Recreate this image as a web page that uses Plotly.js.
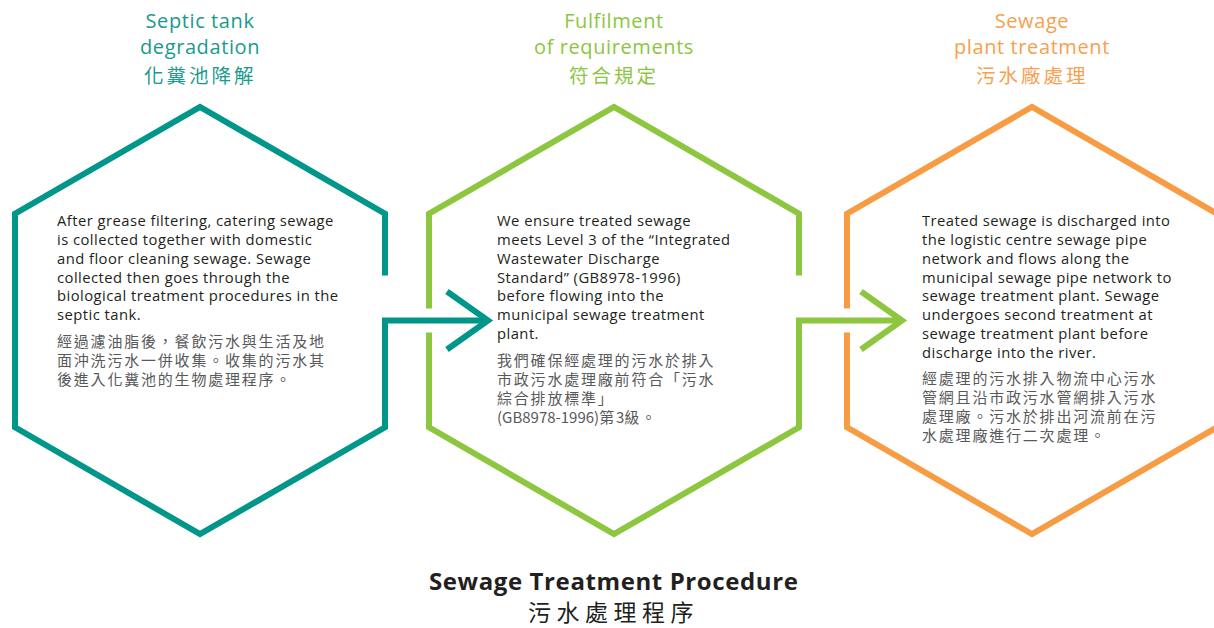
<!DOCTYPE html>
<html>
<head>
<meta charset="utf-8">
<script src="https://cdn.plot.ly/plotly-3.0.1.min.js"></script>
<style>
  html, body { margin: 0; padding: 0; background: #fff; }
  #plotArea0 { width: 1214px; height: 628px; }
</style>
</head>
<body>
<div id="plotArea0"></div>
<script>
// step data
var stepTitleEn = [["Septic tank", "degradation"], ["Fulfilment", "of requirements"], ["Sewage", "plant treatment"]];
var stepTitleZh = ["化糞池降解", "符合規定", "污水廠處理"];
var stepColor = ["#00968a", "#8dc63f", "#f89c43"];
var stepTitleColor = ["#1a9a8c", "#8cc63f", "#f7a04f"];

var stepBodyEn = [
    ["After grease filtering, catering sewage",
     "is collected together with domestic",
     "and floor cleaning sewage. Sewage",
     "collected then goes through the",
     "biological treatment procedures in the",
     "septic tank."],
    ["We ensure treated sewage",
     "meets Level 3 of the \u201cIntegrated",
     "Wastewater Discharge",
     "Standard\u201d (GB8978-1996)",
     "before flowing into the",
     "municipal sewage treatment",
     "plant."],
    ["Treated sewage is discharged into",
     "the logistic centre sewage pipe",
     "network and flows along the",
     "municipal sewage pipe network to",
     "sewage treatment plant. Sewage",
     "undergoes second treatment at",
     "sewage treatment plant before",
     "discharge into the river."]
];
var stepBodyZh = [
    ["經過濾油脂後，餐飲污水與生活及地",
     "面沖洗污水一併收集。收集的污水其",
     "後進入化糞池的生物處理程序。"],
    ["我們確保經處理的污水於排入",
     "市政污水處理廠前符合「污水",
     "綜合排放標準」",
     "(GB8978-1996)第3級。"],
    ["經處理的污水排入物流中心污水",
     "管網且沿市政污水管網排入污水",
     "處理廠。污水於排出河流前在污",
     "水處理廠進行二次處理。"]
];
var chartTitleEn = "Sewage Treatment Procedure";
var chartTitleZh = "污水處理程序";

// layout of the hexagons (pixels, y down)
var hexCenterX = [200, 614, 1032];
var hexCenterY = 320.5;
var hexHalfW = 185;
var hexR = hexHalfW / Math.cos(Math.PI / 6);
var textLeft = [55, 495, 920];

var enFont = "'Open Sans', 'Noto Sans', sans-serif";
var zhFont = "'Noto Sans CJK TC', 'Noto Sans CJK SC', sans-serif";

// spread out only the CJK characters, leave latin runs as they are
function spaceCjk(s, px) {
    return s.replace(/([\u3000-\u9fff\uff00-\uffef]+)/g,
        '<span style="letter-spacing:' + px + 'px">$1</span>');
}
function styled(s, css) {
    return '<span style="' + css + '">' + s + '</span>';
}

var traces = [];
var annotations = [];

hexCenterX.forEach(function(cx, i) {
    var cy = hexCenterY, w = hexHalfW, R = hexR, h = hexR / 2;
    var hasArrow = i < hexCenterX.length - 1;
    var hasGap = i > 0;
    var xs = [], ys = [];
    function pt(x, y) { xs.push(x); ys.push(y); }

    // outline
    if (hasArrow) pt(cx + w, cy - 45);
    else pt(cx + w, cy + h);
    pt(cx + w, cy - h);
    pt(cx, cy - R);
    pt(cx - w, cy - h);
    if (hasGap) {
        pt(cx - w, cy - 12);
        pt(null, null);
        pt(cx - w, cy + 12);
    }
    pt(cx - w, cy + h);
    pt(cx, cy + R);
    pt(cx + w, cy + h);
    if (hasArrow) {
        var tip = cx + w + 103;
        pt(cx + w, cy);
        pt(tip, cy);
        pt(null, null);
        pt(tip - 41, cy - 29);
        pt(tip, cy);
        pt(tip - 41, cy + 29);
    }
    traces.push({
        x: xs, y: ys, type: "scatter", mode: "lines",
        line: {color: stepColor[i], width: 6},
        connectgaps: false, hoverinfo: "skip"
    });

    // step title: two english lines (26px apart), chinese line below
    annotations.push({
        x: cx, y: 33.5,
        text: stepTitleEn[i].map(function(l) { return styled(l, "letter-spacing:0.6px"); }).join("<br>"),
        showarrow: false, xanchor: "center", yanchor: "middle", align: "center",
        font: {family: enFont, size: 20, color: stepTitleColor[i]}
    });
    annotations.push({
        x: cx, y: 74,
        text: spaceCjk(stepTitleZh[i], 3),
        showarrow: false, xanchor: "center", yanchor: "middle",
        font: {family: zhFont, size: 19.5, color: stepTitleColor[i]}
    });

    // body text, line pitch ~18.8px
    var nEn = stepBodyEn[i].length;
    annotations.push({
        x: textLeft[i], y: 220 + (nEn - 1) * 18.85 / 2,
        text: stepBodyEn[i].map(function(l) {
            return styled(l, "font-size:14.8px;letter-spacing:0.45px");
        }).join("<br>"),
        showarrow: false, xanchor: "left", yanchor: "middle", align: "left",
        font: {family: enFont, size: 14.5, color: "#231f20"}
    });
    var nZh = stepBodyZh[i].length;
    var zhStart = 220 + nEn * 18.8 + 7.5;
    annotations.push({
        x: textLeft[i], y: zhStart + (nZh - 1) * 19 / 2,
        text: stepBodyZh[i].map(function(l) {
            return styled(spaceCjk(l, 1.8), "font-size:15px");
        }).join("<br>"),
        showarrow: false, xanchor: "left", yanchor: "middle", align: "left",
        font: {family: zhFont, size: 14.6, color: "#58595b"}
    });
});

// chart title at the bottom
annotations.push({
    x: 613.5, y: 580.5,
    text: styled("<b>" + chartTitleEn + "</b>", "letter-spacing:0.6px"),
    showarrow: false, xanchor: "center", yanchor: "middle",
    font: {family: enFont, size: 24, color: "#231f20"}
});
annotations.push({
    x: 613.5, y: 611,
    text: spaceCjk(chartTitleZh, 5.5),
    showarrow: false, xanchor: "center", yanchor: "middle",
    font: {family: zhFont, size: 23, color: "#231f20"}
});

var layout = {
    width: 1214, height: 628,
    margin: {l: 0, r: 0, t: 0, b: 0},
    paper_bgcolor: "#ffffff", plot_bgcolor: "#ffffff",
    showlegend: false,
    xaxis: {range: [0, 1214], visible: false, fixedrange: true},
    yaxis: {range: [628, 0], visible: false, fixedrange: true},
    annotations: annotations
};

Plotly.newPlot("plotArea0", traces, layout, {staticPlot: true, displayModeBar: false});
</script>
</body>
</html>
